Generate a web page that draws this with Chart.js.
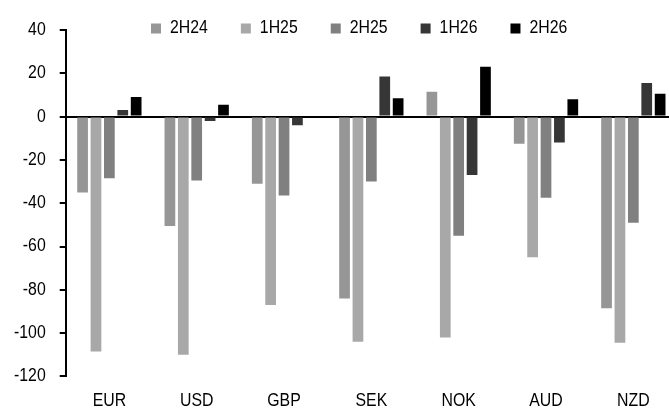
<!DOCTYPE html>
<html><head><meta charset="utf-8">
<script src="https://cdn.jsdelivr.net/npm/chart.js@4"></script>
<style>
html,body{margin:0;padding:0;overflow:hidden;background:#fff;}
#wrap{position:relative;width:677px;height:410px;}
</style></head>
<body><div id="wrap"><canvas id="c"></canvas></div>
<script>
const categories = ["EUR","USD","GBP","SEK","NOK","AUD","NZD"];
const seriesNames = ["2H24","1H25","2H25","1H26","2H26"];
const s2H24 = [-35, -50.5, -31, -84, 11.5, -12.5, -88.5];
const s1H25 = [-108.5, -110, -87, -104, -102, -65, -104.5];
const s2H25 = [-28.5, -29.5, -36.5, -30, -55, -37.5, -49];
const s1H26 = [3, -2, -4, 18.5, -27, -12, 15.5];
const s2H26 = [9, 5.5, 0, 8.5, 23, 8, 10.5];
const yTicks = [40,20,0,-20,-40,-60,-80,-100,-120];
const colors = ["#969696","#a8a8a8","#808080","#363636","#000000"];
const values = [s2H24,s1H25,s2H25,s1H26,s2H26];

const FONT = "'Liberation Sans',Arial,sans-serif";
const SX = 0.88; // horizontal condensing to imitate a narrow sans face
const canvas = document.getElementById('c');
const ctx = canvas.getContext('2d');
const P = CanvasRenderingContext2D.prototype;
ctx.fillText = function(t,x,y){ this.save(); this.translate(x,y); this.scale(SX,1); P.fillText.call(this,t,0,0); this.restore(); };
ctx.measureText = function(t){ const m = P.measureText.call(this,t); return {width:m.width*SX, actualBoundingBoxAscent:m.actualBoundingBoxAscent, actualBoundingBoxDescent:m.actualBoundingBoxDescent, actualBoundingBoxLeft:m.actualBoundingBoxLeft*SX, actualBoundingBoxRight:m.actualBoundingBoxRight*SX, fontBoundingBoxAscent:m.fontBoundingBoxAscent, fontBoundingBoxDescent:m.fontBoundingBoxDescent}; };

Chart.defaults.font.family = FONT;
Chart.defaults.font.size = 18;
Chart.defaults.color = "#000";

const LEG_PAD = 33, LEG_FONT = 18, LEG_Y = 28.5, LEG_X = 151, LEG_H = 30;
const legendTweak = {
  id:'legendTweak',
  beforeUpdate(chart){
    const lg = chart.legend;
    if (lg && !lg._tweaked){ const f = lg.fit; lg.fit = function(){ f.call(this); this.height = LEG_H; }; lg._tweaked = true; }
  },
  afterLayout(chart){
    const lg = chart.legend; if(!lg) return;
    const start = (lg.left + LEG_PAD + lg.right - lg.lineWidths[0]) / 2;
    const dx = LEG_X - start;
    lg.left += dx; lg.right += dx;
    const top = LEG_Y - LEG_PAD - LEG_FONT/2;
    lg.top = top; lg.bottom = top + 90;
  }
};

new Chart(canvas, {
  type: 'bar',
  data: {
    labels: categories,
    datasets: seriesNames.map((n,i)=>({label:n,data:values[i],backgroundColor:colors[i],borderWidth:0,barPercentage:0.8,categoryPercentage:0.767}))
  },
  options: {
    responsive:true, maintainAspectRatio:false, animation:false,
    layout:{padding:{left:0,right:0,top:0,bottom:-16}},
    plugins:{
      legend:{position:'top',labels:{boxWidth:10,boxHeight:10,padding:LEG_PAD,font:{size:LEG_FONT,family:FONT},color:'#000'}},
      tooltip:{enabled:false}
    },
    scales:{
      x:{grid:{display:false,drawTicks:false},border:{display:false},ticks:{padding:14,maxRotation:0,autoSkip:false,font:{size:18,family:FONT},color:'#000'}},
      y:{min:-120,max:40,
        afterBuildTicks:(ax)=>{ax.ticks=yTicks.map(v=>({value:v}));},
        grid:{color:(c)=>c.tick && c.tick.value===0?'#000':'rgba(0,0,0,0)',lineWidth:2,tickLength:6,tickColor:'#000',tickWidth:2},
        border:{display:true,color:'#000',width:2},
        ticks:{padding:14,font:{size:18,family:FONT},color:'#000'}}
    }
  },
  plugins:[legendTweak]
});
</script></body></html>
